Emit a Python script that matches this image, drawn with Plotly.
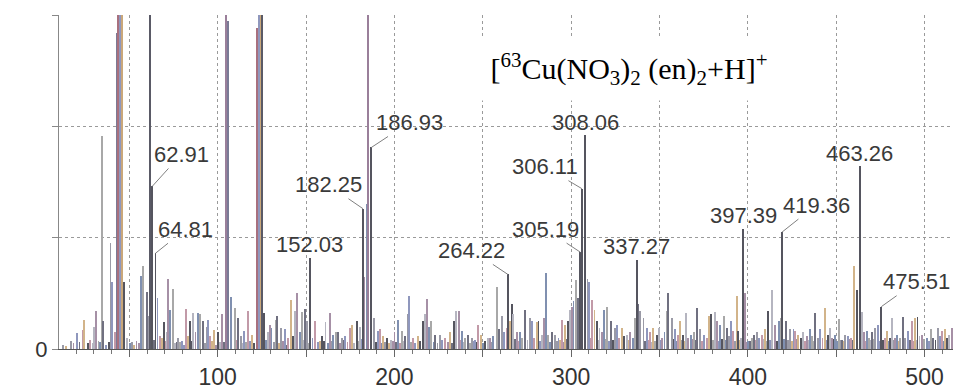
import plotly.graph_objects as go

# ---------------- data (m/z, relative intensity; gridline spacing = 1 unit) ----------------
label_mz = [62.91, 64.81, 152.03, 182.25, 186.93, 264.22, 305.19, 306.11,
            308.06, 337.27, 397.39, 419.36, 463.26, 475.51]
label_int = [1.46, 0.86, 0.82, 1.26, 1.81, 0.67, 0.87, 1.44,
             1.92, 0.80, 1.08, 1.05, 1.64, 0.38]
label_text = ["62.91", "64.81", "152.03", "182.25", "186.93", "264.22", "305.19", "306.11",
              "308.06", "337.27", "397.39", "419.36", "463.26", "475.51"]

tall_mz = [42.8, 43.8, 44.7, 45.7, 61.8, 104.6, 106.0, 122.1, 123.3, 124.3, 125.2, 185.1]
tall_int = [2.84, 3.6, 3.6, 3.4, 3.6, 3.6, 2.95, 2.88, 3.6, 3.6, 3.6, 3.6]

minor_mz_low = [
    16.8, 20.4, 23.9, 24.5, 26.8, 30.0, 31.3, 33.4, 34.5, 35.3,
    39.4, 40.4, 41.9, 46.6, 47.2, 48.5, 54.1, 56.6, 57.9, 59.8,
    61.1, 66.0, 67.3, 68.3, 69.6, 71.1, 72.0, 73.0, 74.5, 76.8,
    77.7, 79.6, 82.0, 83.4, 84.3, 86.2, 87.5, 88.7, 90.0, 91.9,
    93.8, 94.4, 95.6, 98.1, 100.0, 101.3, 102.6, 107.6, 109.8, 111.7,
    113.2, 115.1, 117.3, 119.2, 126.4, 128.3, 129.6, 130.5, 132.8, 133.4,
    135.8, 138.1, 140.0, 141.5, 142.8, 143.7, 145.0, 146.6, 147.5, 149.4,
    150.4, 153.6, 155.1, 157.9, 159.2, 161.0, 163.5, 165.4, 166.8, 168.3,
    170.2, 172.0, 174.9, 175.8, 178.7, 180.5, 183.0, 184.3]
minor_int_low = [
    0.07, 0.14, 0.17, 0.26, 0.05, 0.20, 0.34, 0.06, 1.91, 0.25,
    0.95, 0.60, 0.15, 0.35, 0.60, 0.10, 0.07, 0.66, 0.75, 0.51,
    0.30, 0.46, 0.12, 0.10, 0.24, 0.15, 0.63, 0.35, 0.54, 0.06,
    0.10, 0.07, 0.36, 0.12, 0.25, 0.32, 0.15, 0.32, 0.31, 0.25,
    0.20, 0.26, 0.12, 0.17, 0.15, 0.06, 0.31, 0.47, 0.37, 0.28,
    0.12, 0.16, 0.34, 0.13, 0.32, 0.15, 0.22, 0.19, 0.26, 0.30,
    0.19, 0.18, 0.10, 0.44, 0.12, 0.34, 0.50, 0.15, 0.33, 0.36,
    0.25, 0.10, 0.25, 0.07, 0.12, 0.24, 0.32, 0.13, 0.15, 0.15,
    0.10, 0.12, 0.19, 0.22, 0.25, 0.20, 0.65, 1.30]

minor_mz_mid = [
    188.6, 190.9, 191.8, 193.7, 195.6, 198.1, 200.0, 202.2, 204.1, 206.0,
    207.5, 208.3, 210.7, 213.5, 216.4, 217.3, 218.3, 219.6, 220.7, 223.0,
    225.8, 227.1, 228.6, 231.5, 233.9, 234.9, 236.6, 238.4, 240.0, 241.8,
    243.7, 245.6, 247.5, 249.0, 251.3, 252.8, 254.1, 256.0, 257.9, 259.2,
    260.7, 262.2, 263.5, 265.4, 266.4, 267.3, 269.2, 271.1, 272.4, 273.9,
    276.7, 277.7, 279.2, 280.5, 281.5, 283.4, 284.8, 285.6, 287.1, 289.0,
    290.9, 292.8, 294.7, 296.6, 298.1, 299.4, 300.3, 301.3, 302.8, 304.1,
    309.3, 310.0, 312.0, 313.2, 314.5, 316.0, 317.3, 318.8, 320.1, 322.6,
    324.8, 325.8, 327.1, 328.6, 330.1, 331.5, 333.3, 334.9, 336.2, 338.0,
    339.0]
minor_int_mid = [
    0.28, 0.16, 0.18, 0.12, 0.10, 0.08, 0.15, 0.26, 0.16, 0.12,
    0.31, 0.48, 0.10, 0.12, 0.25, 0.31, 0.45, 0.20, 0.25, 0.13,
    0.13, 0.08, 0.10, 0.15, 0.25, 0.34, 0.34, 0.16, 0.10, 0.13,
    0.10, 0.08, 0.22, 0.13, 0.07, 0.10, 0.10, 0.12, 0.56, 0.18,
    0.30, 0.15, 0.19, 0.25, 0.40, 0.31, 0.15, 0.15, 0.10, 0.35,
    0.28, 0.25, 0.10, 0.24, 0.25, 0.13, 0.28, 0.68, 0.13, 0.15,
    0.13, 0.10, 0.26, 0.22, 0.25, 0.35, 0.38, 0.43, 0.62, 0.46,
    0.63, 0.60, 0.44, 0.35, 0.25, 0.19, 0.15, 0.35, 0.38, 0.25,
    0.19, 0.22, 0.10, 0.19, 0.12, 0.13, 0.15, 0.10, 0.28, 0.40,
    0.34]

minor_mz_high = [
    340.9, 342.8, 344.7, 346.5, 348.4, 349.7, 351.3, 352.8, 354.1, 355.0,
    356.9, 358.8, 360.3, 361.6, 363.1, 365.0, 366.3, 367.9, 369.7, 371.1,
    372.9, 375.4, 376.7, 378.2, 379.0, 381.4, 382.4, 384.3, 386.5, 388.0,
    389.4, 390.5, 391.8, 393.7, 394.6, 396.1, 398.5, 400.3, 402.2, 403.7,
    405.0, 406.3, 407.9, 409.7, 411.6, 413.5, 415.4, 417.7, 418.6, 421.4,
    423.9, 425.8, 426.7, 428.6, 429.9, 431.4, 433.3, 435.2, 436.5, 438.0,
    439.5, 440.9, 442.2, 443.7, 445.2, 446.5, 447.8, 449.4, 451.8, 453.5,
    455.0, 456.9, 458.4, 460.1, 461.6, 464.8, 465.9, 467.3, 468.6, 470.1,
    472.0, 473.5, 477.6, 478.6, 480.5, 481.8, 483.3, 484.3, 486.1, 487.6,
    489.0, 490.8, 492.7, 494.6, 496.0, 497.1, 498.4, 501.2, 503.7, 505.0,
    507.5, 508.8, 509.7, 511.6, 512.7, 514.0, 515.4]
minor_int_high = [
    0.28, 0.19, 0.15, 0.19, 0.13, 0.19, 0.10, 0.15, 0.34, 0.50,
    0.28, 0.18, 0.13, 0.25, 0.13, 0.32, 0.10, 0.13, 0.15, 0.37,
    0.18, 0.13, 0.10, 0.30, 0.31, 0.33, 0.25, 0.22, 0.30, 0.19,
    0.12, 0.25, 0.16, 0.48, 0.16, 0.10, 0.50, 0.07, 0.10, 0.13,
    0.15, 0.10, 0.13, 0.18, 0.34, 0.53, 0.22, 0.25, 0.28, 0.25,
    0.18, 0.18, 0.16, 0.13, 0.10, 0.15, 0.12, 0.18, 0.12, 0.32,
    0.10, 0.18, 0.10, 0.37, 0.13, 0.19, 0.10, 0.13, 0.27, 0.08,
    0.13, 0.12, 0.10, 0.75, 0.53, 0.33, 0.15, 0.16, 0.10, 0.15,
    0.19, 0.22, 0.10, 0.16, 0.10, 0.28, 0.10, 0.13, 0.10, 0.29,
    0.10, 0.16, 0.25, 0.28, 0.29, 0.12, 0.13, 0.10, 0.18, 0.10,
    0.19, 0.12, 0.16, 0.18, 0.10, 0.13, 0.19]

grass_mz = [
    12.6, 14.3, 18.4, 21.8, 27.9, 29.1, 32.6, 37.0, 38.3, 50.2,
    51.6, 52.8, 55.4, 63.9, 70.4, 75.7, 78.6, 80.9, 85.3, 89.4,
    92.8, 96.9, 99.0, 103.6, 110.6, 114.1, 116.2, 118.4, 120.5, 127.4,
    131.7, 134.6, 137.0, 139.1, 144.5, 148.5, 151.2, 156.7, 160.1, 162.4,
    164.5, 167.6, 169.4, 171.1, 173.5, 177.3, 179.6, 181.4, 189.7, 192.9,
    194.7, 197.0, 199.2, 201.1, 203.2, 205.1, 209.5, 211.8, 214.7, 222.1,
    224.4, 226.6, 230.2, 232.6, 237.5, 239.2, 242.8, 244.6, 246.5, 250.2,
    255.0, 258.6, 261.5, 268.2, 270.2, 275.3, 278.6, 282.4, 286.2, 288.1,
    291.9, 293.7, 295.6, 297.4, 311.0, 315.2, 319.5, 321.4, 323.7, 326.5,
    329.4, 332.4, 335.5, 341.8, 343.8, 345.6, 347.4, 350.4, 357.8, 359.6,
    362.4, 364.1, 368.8, 370.4, 374.1, 377.5, 380.1, 383.3, 385.4, 387.2,
    392.7, 395.4, 399.6, 401.3, 404.2, 408.8, 410.6, 412.5, 416.5, 420.4,
    422.6, 424.8, 427.6, 430.6, 432.3, 434.2, 437.4, 444.4, 448.6, 450.5,
    452.6, 454.0, 457.6, 459.2, 466.6, 469.2, 471.0, 474.4, 476.6, 479.5,
    482.6, 485.2, 488.2, 491.7, 493.6, 495.4, 499.5, 502.4, 506.2, 510.6]
grass_int = [
    0.04, 0.03, 0.05, 0.06, 0.08, 0.05, 0.07, 0.04, 0.06, 0.05,
    0.06, 0.04, 0.05, 0.08, 0.07, 0.05, 0.06, 0.04, 0.07, 0.06,
    0.05, 0.07, 0.04, 0.06, 0.08, 0.05, 0.06, 0.07, 0.05, 0.08,
    0.06, 0.05, 0.07, 0.04, 0.06, 0.08, 0.05, 0.06, 0.07, 0.05,
    0.07, 0.06, 0.05, 0.08, 0.06, 0.05, 0.07, 0.09, 0.06, 0.05,
    0.06, 0.05, 0.07, 0.06, 0.05, 0.07, 0.06, 0.05, 0.07, 0.06,
    0.05, 0.07, 0.06, 0.05, 0.08, 0.06, 0.05, 0.07, 0.06, 0.05,
    0.06, 0.08, 0.07, 0.09, 0.07, 0.08, 0.06, 0.07, 0.08, 0.06,
    0.07, 0.08, 0.06, 0.09, 0.10, 0.08, 0.09, 0.07, 0.08, 0.06,
    0.07, 0.08, 0.06, 0.07, 0.08, 0.06, 0.07, 0.08, 0.09, 0.07,
    0.08, 0.07, 0.09, 0.08, 0.07, 0.06, 0.08, 0.07, 0.09, 0.08,
    0.07, 0.08, 0.06, 0.07, 0.08, 0.09, 0.07, 0.08, 0.07, 0.09,
    0.08, 0.07, 0.09, 0.08, 0.07, 0.08, 0.07, 0.08, 0.09, 0.07,
    0.08, 0.07, 0.09, 0.08, 0.07, 0.08, 0.09, 0.07, 0.08, 0.07,
    0.08, 0.07, 0.09, 0.08, 0.07, 0.08, 0.09, 0.07, 0.08, 0.07]

x_tick_vals = [50, 100, 150, 200, 250, 300, 350, 400, 450, 500]
x_tick_text = ["", "100", "", "200", "", "300", "", "400", "", "500"]
y_tick_vals = [0, 1, 2, 3]
y_tick_text = ["0", "", "", ""]

# ---------------- styling ----------------
palette = ["#9a9aa6", "#8f97bd", "#c29aa8", "#d2b48a", "#55555f",
           "#b5b5c0", "#a690a6", "#8090b0", "#a8a8a8", "#707080"]
tall_palette = ["#7a7a96", "#a8707e", "#8f97bd", "#c9a77a", "#5a5a66", "#9a7f9a"]

# label placement (pixel offsets of label centre from peak top); None = directly above
label_offsets = {
    "62.91": (29, -32), "64.81": (30, -24), "152.03": None, "182.25": (-35, -24),
    "186.93": (38, -25), "264.22": (-36, -24), "305.19": (-35, -23), "306.11": (-37, -22),
    "308.06": None, "337.27": None, "397.39": None, "419.36": (34, -27),
    "463.26": None, "475.51": (35, -25),
}

def pairs(a, b):
    n = min(len(a), len(b))
    return list(a[:n]), list(b[:n])

fig = go.Figure()

BW = 0.45
gx, gy = pairs(grass_mz, grass_int)
fig.add_trace(go.Bar(x=gx, y=gy, width=BW,
                     marker=dict(color=[palette[(i * 3) % len(palette)] for i in range(len(gx))],
                                 line=dict(width=0)),
                     showlegend=False, hoverinfo="x+y"))

for mzs, ints in [(minor_mz_low, minor_int_low), (minor_mz_mid, minor_int_mid),
                  (minor_mz_high, minor_int_high)]:
    mx, my = pairs(mzs, ints)
    fig.add_trace(go.Bar(x=mx, y=my, width=BW,
                         marker=dict(color=[palette[i % len(palette)] for i in range(len(mx))],
                                     line=dict(width=0)),
                         showlegend=False, hoverinfo="x+y"))

tx, ty = pairs(tall_mz, tall_int)
fig.add_trace(go.Bar(x=tx, y=ty, width=0.55,
                     marker=dict(color=[tall_palette[i % len(tall_palette)] for i in range(len(tx))],
                                 line=dict(width=0)),
                     showlegend=False, hoverinfo="x+y"))

lx, ly = pairs(label_mz, label_int)
fig.add_trace(go.Bar(x=lx, y=ly, width=BW,
                     marker=dict(color="#55555f", line=dict(width=0)),
                     showlegend=False, hoverinfo="x+y"))

label_font = dict(family="Liberation Sans, Arial, sans-serif", size=22, color="#3a3a3a")
for mz, inten, txt in zip(label_mz, label_int, label_text):
    off = label_offsets.get(txt)
    if off is None:
        fig.add_annotation(x=mz, y=inten, text=txt, showarrow=False,
                           xanchor="center", yanchor="middle", yshift=13, font=label_font)
    else:
        fig.add_annotation(x=mz, y=inten, text=txt, showarrow=True, ax=off[0], ay=off[1],
                           arrowhead=0, arrowwidth=1, arrowcolor="#808080", standoff=0,
                           font=label_font)

fig.add_annotation(
    xref="paper", yref="paper", x=0.638, y=0.839,
    text="[<sup>63</sup>Cu(NO<sub>3</sub>)<sub>2</sub> (en)<sub>2</sub>+H]<sup>+</sup>",
    showarrow=False, xanchor="center", yanchor="middle",
    bgcolor="white", width=334, height=60,
    font=dict(family="Liberation Serif, Times New Roman, serif", size=30, color="black"))

fig.update_layout(
    width=953, height=390,
    margin=dict(l=59, r=0, t=15, b=34),
    paper_bgcolor="white", plot_bgcolor="white",
    bargap=0, barmode="overlay",
    xaxis=dict(range=[10.2, 516.1], tickvals=x_tick_vals, ticktext=x_tick_text,
               showgrid=True, gridcolor="#9a9a9a", griddash="3px,3px", gridwidth=1,
               showline=True, linecolor="#555555", linewidth=1,
               ticks="outside", ticklen=7, tickcolor="#666666",
               minor=dict(dtick=10, tick0=0, ticks="outside", ticklen=4, tickcolor="#777777",
                          showgrid=False),
               tickfont=dict(family="Liberation Sans, Arial, sans-serif", size=23, color="#333333"),
               zeroline=False),
    yaxis=dict(range=[0, 3], tickvals=y_tick_vals, ticktext=y_tick_text,
               showgrid=True, gridcolor="#9a9a9a", griddash="3px,3px", gridwidth=1,
               showline=True, linecolor="#888888", linewidth=1,
               ticks="outside", ticklen=6, tickcolor="#888888",
               tickfont=dict(family="Liberation Sans, Arial, sans-serif", size=22, color="#333333"),
               zeroline=False),
)

fig.write_html("out.html", config={"displayModeBar": False},
               post_script="document.body.style.margin='0';document.body.style.overflow='hidden';")
